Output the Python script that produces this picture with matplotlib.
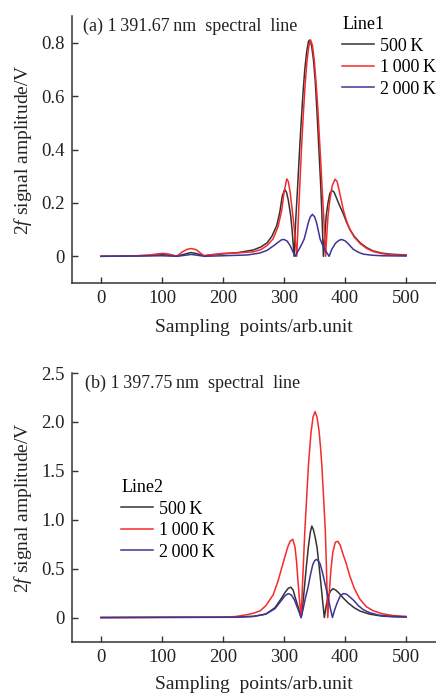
import matplotlib
matplotlib.use("Agg")
import matplotlib.pyplot as plt

plt.rcParams['font.family'] = ['Liberation Serif', 'DejaVu Serif']
plt.rcParams['mathtext.fontset'] = 'custom'
plt.rcParams['mathtext.rm'] = 'Liberation Serif'
plt.rcParams['mathtext.it'] = 'Liberation Serif:italic'

TS = '\u2009'  # thin space used in the numbers

# ---- panel (a): 1391.67 nm line ----
a_x_500 = [0, 50, 80, 100, 115, 125, 137, 147, 157, 168, 185, 200, 225, 250, 262, 272, 280, 288,
           293, 297, 301, 304, 307, 311, 313.5, 316.5, 319, 322, 325, 328, 331, 334, 337, 340,
           342, 345, 348, 351, 354, 356, 358, 360, 362, 364.5, 367, 369, 372, 375, 378.5, 382,
           386, 391, 397, 402, 408, 415, 425, 435, 446, 460, 475, 500]
a_y_500 = [0, 0.001, 0.003, 0.006, 0.004, 0.001, 0.008, 0.014, 0.010, 0.002, 0.006, 0.009, 0.014,
           0.024, 0.035, 0.050, 0.075, 0.115, 0.165, 0.225, 0.250, 0.240, 0.210, 0.150, 0.090, 0,
           0.13, 0.25, 0.38, 0.50, 0.61, 0.70, 0.765, 0.805, 0.81, 0.79, 0.74, 0.66, 0.54, 0.45,
           0.36, 0.27, 0.16, 0, 0.08, 0.15, 0.20, 0.235, 0.247, 0.24, 0.218, 0.19, 0.16, 0.13,
           0.10, 0.075, 0.05, 0.033, 0.02, 0.012, 0.008, 0.005]

a_x_1000 = [0, 50, 80, 92, 102, 112, 124, 133, 141, 148, 156, 163, 169, 180, 200, 225, 250, 262,
            272, 282, 290, 296, 300, 304.4, 307, 310, 313, 315.5, 318, 320.8, 323, 325.5, 328.5,
            331.5, 334.5, 337.5, 340.5, 343.5, 346.5, 349.5, 352.5, 355.5, 358, 360, 362.5, 365,
            368, 370, 372, 375, 379, 383.5, 387, 391, 397, 402, 408, 415, 425, 435, 446, 460, 475,
            500]
a_y_1000 = [0, 0.001, 0.005, 0.009, 0.011, 0.008, 0, 0.016, 0.026, 0.029, 0.025, 0.012, 0.002,
            0.006, 0.011, 0.013, 0.017, 0.025, 0.040, 0.065, 0.110, 0.170, 0.240, 0.290, 0.280,
            0.240, 0.180, 0.130, 0.070, 0, 0.12, 0.25, 0.40, 0.53, 0.64, 0.73, 0.785, 0.81, 0.79,
            0.735, 0.65, 0.55, 0.44, 0.36, 0.25, 0.15, 0, 0.08, 0.15, 0.21, 0.265, 0.289, 0.28,
            0.24, 0.175, 0.135, 0.10, 0.072, 0.047, 0.03, 0.018, 0.01, 0.006, 0.004]

a_x_2000 = [0, 100, 125, 148, 170, 200, 240, 260, 272, 282, 290, 296, 300, 305, 310, 314, 318,
            321, 325, 329, 333, 337, 340, 343, 346.5, 350, 353, 356, 359, 363, 367, 370.5, 373.8,
            378, 384, 390, 394.5, 400, 406, 413.6, 422, 430, 445, 460, 500]
a_y_2000 = [0, 0.002, 0, 0.007, 0, 0.002, 0.005, 0.012, 0.022, 0.038, 0.052, 0.062, 0.063, 0.057,
            0.040, 0.020, 0, 0.012, 0.028, 0.045, 0.065, 0.10, 0.128, 0.148, 0.157, 0.148, 0.128,
            0.098, 0.065, 0.043, 0.025, 0.012, 0, 0.025, 0.048, 0.060, 0.063, 0.058, 0.045, 0.026,
            0.015, 0.008, 0.004, 0.002, 0.001]

# ---- panel (b): 1397.75 nm line ----
b_x_500 = [0, 100, 220, 250, 270, 285, 295, 302, 307, 311, 315, 318, 323, 328, 331, 334, 337, 340,
           343, 345.5, 348, 351, 354, 357, 360, 363, 366, 369, 372, 376, 380, 385, 390, 397, 405,
           415, 425, 440, 460, 480, 500]
b_y_500 = [0, 0.002, 0.003, 0.012, 0.035, 0.10, 0.19, 0.26, 0.30, 0.31, 0.28, 0.21, 0.11, 0, 0.15,
           0.35, 0.55, 0.73, 0.87, 0.935, 0.90, 0.82, 0.72, 0.55, 0.37, 0.18, 0, 0.12, 0.21, 0.27,
           0.295, 0.28, 0.25, 0.20, 0.15, 0.10, 0.065, 0.035, 0.015, 0.008, 0.005]

b_x_1000 = [0, 100, 200, 220, 240, 250, 260.7, 270, 282, 290, 299, 306, 310, 314.2, 318, 320.5,
            322.5, 325, 328, 331, 334, 337, 340, 344, 347.5, 350.8, 354, 357.5, 360, 362, 365,
            367.7, 369.5, 371.6, 374, 377, 380, 384, 388, 392, 397, 402, 408, 415, 424, 435, 446,
            460, 479, 500]
b_y_1000 = [0, 0.002, 0.004, 0.010, 0.030, 0.045, 0.068, 0.12, 0.23, 0.37, 0.57, 0.72, 0.78, 0.80,
            0.72, 0.57, 0.40, 0.20, 0, 0.45, 0.88, 1.22, 1.56, 1.88, 2.05, 2.105, 2.05, 1.90,
            1.72, 1.55, 1.20, 0.88, 0.50, 0, 0.25, 0.50, 0.67, 0.77, 0.78, 0.74, 0.64, 0.55, 0.42,
            0.30, 0.19, 0.11, 0.07, 0.04, 0.02, 0.012]

b_x_2000 = [0, 100, 220, 250, 270, 285, 295, 302, 307, 312, 317, 322, 325, 328, 331, 335, 339, 343,
            347, 350, 353, 356, 359, 363, 367, 371, 375, 379.3, 383, 387, 392, 397, 402, 408, 415,
            422, 430, 440, 455, 475, 500]
b_y_2000 = [0, 0.002, 0.003, 0.012, 0.035, 0.09, 0.17, 0.225, 0.245, 0.23, 0.18, 0.10, 0.05, 0,
            0.08, 0.20, 0.30, 0.43, 0.54, 0.58, 0.595, 0.58, 0.55, 0.46, 0.35, 0.24, 0.12, 0, 0.08,
            0.15, 0.22, 0.245, 0.24, 0.21, 0.17, 0.12, 0.08, 0.05, 0.025, 0.012, 0.006]

labels = ['500' + TS + 'K', '1' + TS + '000' + TS + 'K', '2' + TS + '000' + TS + 'K']
colors = ['#333333', '#f52a2a', '#3d3596']

x_ticks = [0, 100, 200, 300, 400, 500]
a_yticks = [0, 0.2, 0.4, 0.6, 0.8]
a_yticklabels = ['0', '0.2', '0.4', '0.6', '0.8']
b_yticks = [0, 0.5, 1.0, 1.5, 2.0, 2.5]
b_yticklabels = ['0', '0.5', '1.0', '1.5', '2.0', '2.5']

fig = plt.figure(figsize=(4.36, 6.95), dpi=100)
ax1 = fig.add_axes([72 / 436, 412 / 695, 364 / 436, 267 / 695])
ax2 = fig.add_axes([72 / 436, 53 / 695, 364 / 436, 269 / 695])


def style(ax, yticks, yticklabels, ylim):
    ax.set_xlim(-47.5, 549)
    ax.set_ylim(*ylim)
    ax.set_xticks(x_ticks)
    ax.set_yticks(yticks)
    ax.set_yticklabels(yticklabels)
    for s in ['top', 'right']:
        ax.spines[s].set_visible(False)
    for s in ['left', 'bottom']:
        ax.spines[s].set_linewidth(1.1)
        ax.spines[s].set_color('#333333')
    ax.tick_params(direction='in', length=4, width=1, colors='#333333',
                   labelsize=13.5, labelcolor='#222222', pad=5)
    ax.set_xlabel('Sampling  points/arb.unit', fontsize=14, color='#222222')
    ax.set_ylabel(r'2$\mathit{f}$ signal amplitude/V', fontsize=14, color='#222222')
    ax.yaxis.set_label_coords(-0.105, 0.5)


# panel (a)
ax1.plot(a_x_500, a_y_500, color=colors[0], lw=1.1, label=labels[0])
ax1.plot(a_x_1000, a_y_1000, color=colors[1], lw=1.1, label=labels[1])
ax1.plot(a_x_2000, a_y_2000, color=colors[2], lw=1.1, label=labels[2])
style(ax1, a_yticks, a_yticklabels, (-0.1, 0.9))
ax1.xaxis.set_label_coords(0.5, -0.135)
ax1.text(0.03, 0.995, '(a) 1' + TS + '391.67' + TS + 'nm  spectral  line', transform=ax1.transAxes,
         ha='left', va='top', fontsize=13, color='#222222')
ax1.legend(title='Line1', loc='upper left', bbox_to_anchor=(0.742, 1.0), frameon=False,
           fontsize=13, title_fontsize=13, borderpad=0, handlelength=1.75, handletextpad=0.35,
           labelspacing=0.25, alignment='left', borderaxespad=0)

# panel (b)
ax2.plot(b_x_500, b_y_500, color=colors[0], lw=1.1, label=labels[0])
ax2.plot(b_x_1000, b_y_1000, color=colors[1], lw=1.1, label=labels[1])
ax2.plot(b_x_2000, b_y_2000, color=colors[2], lw=1.1, label=labels[2])
style(ax2, b_yticks, b_yticklabels, (-0.25, 2.5))
ax2.xaxis.set_label_coords(0.5, -0.125)
ax2.text(0.035, 0.995, '(b) 1' + TS + '397.75' + TS + 'nm  spectral  line', transform=ax2.transAxes,
         ha='left', va='top', fontsize=13, color='#222222')
ax2.legend(title='Line2', loc='upper left', bbox_to_anchor=(0.135, 0.605), frameon=False,
           fontsize=13, title_fontsize=13, borderpad=0, handlelength=1.75, handletextpad=0.35,
           labelspacing=0.25, alignment='left', borderaxespad=0)

fig.savefig('out.png', dpi=100)
